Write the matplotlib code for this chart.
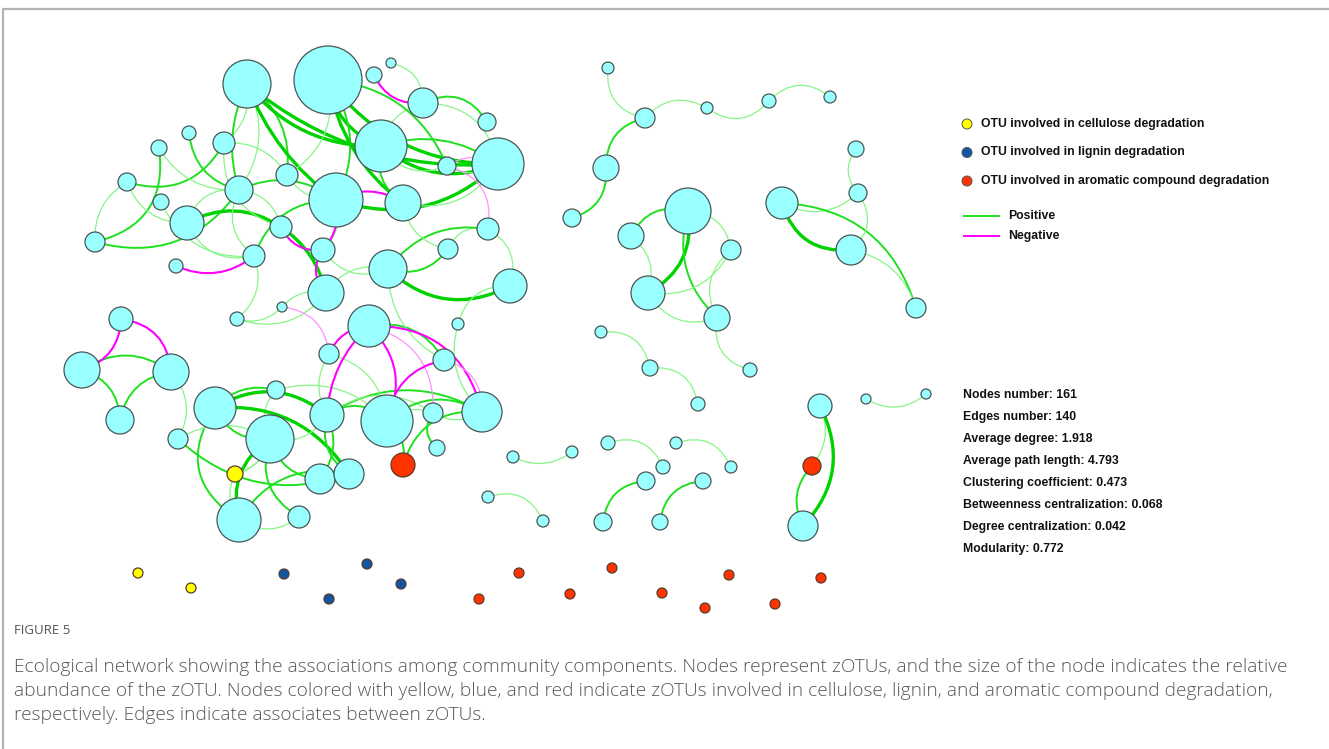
"""
Co-occurrence network of zOTUs with functional annotation, drawn in pixel space.
"""
import matplotlib.pyplot as plt
from matplotlib.patches import Circle, PathPatch
from matplotlib.path import Path

W, H = 1329, 749

# node layout: x, y (pixels, y down), radius, functional group
node_x = [247, 328, 374, 391, 423, 487, 381, 498, 447, 159, 189, 224, 127, 161, 239, 287,
          336, 403, 187, 281, 95, 176, 254, 323, 388, 448, 488, 510, 326, 282, 237, 458,
          369, 329, 444, 121, 82, 171, 120, 276, 215, 270, 327, 387, 433, 482, 178, 437,
          235, 403, 320, 349, 239, 299,
          608, 645, 707, 769, 830, 606, 572, 688, 631, 731, 648, 717, 782, 856, 858, 851,
          916, 601, 650, 750, 698, 820, 866, 926, 513, 572, 608, 663, 676, 731, 646, 703,
          488, 543, 603, 660, 812, 803,
          138, 191, 284, 367, 401, 329, 519, 479, 570, 612, 662, 705, 729, 775, 821]
node_y = [84, 80, 75, 63, 103, 122, 146, 164, 166, 148, 133, 143, 182, 202, 190, 175,
          200, 203, 223, 227, 242, 266, 256, 250, 269, 249, 229, 286, 293, 307, 319, 324,
          326, 354, 360, 319, 370, 372, 420, 390, 408, 439, 415, 421, 413, 412, 439, 448,
          474, 465, 479, 474, 520, 517,
          68, 118, 108, 101, 97, 168, 218, 211, 236, 250, 293, 318, 203, 149, 193, 250,
          308, 332, 368, 370, 404, 406, 399, 394, 457, 452, 443, 467, 443, 467, 481, 481,
          497, 521, 522, 522, 466, 526,
          573, 588, 574, 564, 584, 599, 573, 599, 594, 568, 593, 608, 575, 604, 578]
node_r = [24, 34, 8, 5, 15, 9, 26, 26, 9, 8, 7, 11, 9, 8, 14, 11,
          27, 18, 17, 11, 10, 7, 11, 12, 19, 10, 11, 17, 18, 5, 7, 6,
          21, 10, 11, 12, 18, 18, 14, 9, 21, 24, 17, 26, 10, 20, 10, 8,
          8, 12, 15, 15, 22, 11,
          6, 10, 6, 7, 6, 13, 9, 23, 13, 10, 17, 13, 16, 8, 9, 15,
          10, 6, 8, 7, 7, 12, 5, 5, 6, 6, 7, 7, 6, 6, 9, 8,
          6, 6, 9, 8, 9, 15,
          5, 5, 5, 5, 5, 5, 5, 5, 5, 5, 5, 5, 5, 5, 5]
node_group = (["otu"] * 48 + ["cellulose", "aromatic"] + ["otu"] * 40
              + ["aromatic", "otu"]
              + ["cellulose"] * 2 + ["lignin"] * 4 + ["aromatic"] * 9)

# edges: (source, target, strength class, bend)
positive_edges = [
    (20, 9, 2, 0.45), (20, 12, 1, -0.3), (20, 14, 2, 0.35), (12, 11, 2, 0.4),
    (9, 14, 1, 0.3), (10, 14, 2, 0.35), (12, 18, 1, 0.35), (11, 15, 1, -0.3),
    (18, 19, 3, -0.3), (19, 28, 3, -0.2), (18, 14, 1, -0.4), (18, 22, 1, 0.4),
    (14, 0, 1, 0.3), (0, 15, 2, -0.3), (0, 16, 3, 0.15), (0, 6, 3, 0.25),
    (0, 7, 3, 0.2), (1, 6, 3, 0.3), (1, 7, 3, 0.25), (1, 16, 2, -0.3),
    (1, 17, 3, 0.2), (1, 15, 1, -0.35), (0, 11, 1, -0.3), (0, 14, 2, 0.2),
    (14, 16, 2, -0.3), (15, 16, 1, 0.3), (11, 19, 1, 0.4), (13, 22, 1, 0.35),
    (3, 4, 1, -0.4), (4, 5, 2, -0.45), (4, 7, 1, -0.4), (4, 6, 1, 0.3),
    (6, 7, 3, 0.3), (6, 7, 2, -0.25), (6, 17, 2, 0.35), (8, 7, 1, 0.3),
    (16, 7, 3, 0.3), (17, 7, 1, 0.35), (1, 8, 2, -0.3), (6, 8, 1, 0.4),
    (24, 25, 2, 0.35), (24, 27, 3, 0.35), (25, 26, 1, -0.4), (26, 27, 1, -0.4),
    (26, 24, 2, 0.3), (27, 31, 1, 0.4), (17, 25, 1, 0.35), (24, 23, 1, -0.4),
    (30, 29, 1, 0.3), (30, 28, 1, 0.35), (30, 22, 1, 0.35), (22, 14, 1, -0.4),
    (19, 14, 1, 0.35), (23, 16, 1, 0.3), (22, 16, 2, -0.35), (28, 24, 1, -0.35),
    (32, 34, 2, -0.35), (42, 45, 2, -0.3), (42, 43, 2, -0.4), (42, 44, 1, -0.35),
    (43, 45, 2, -0.35), (44, 45, 1, 0.3), (44, 47, 2, 0.45), (45, 49, 2, 0.4),
    (43, 49, 2, -0.3), (33, 42, 1, 0.3), (39, 41, 1, 0.35), (37, 46, 1, -0.35),
    (36, 37, 2, -0.35), (36, 38, 2, -0.35), (37, 38, 2, 0.35), (40, 39, 2, -0.3),
    (40, 41, 2, 0.35), (40, 52, 2, 0.5), (40, 51, 3, -0.3), (46, 51, 2, 0.3),
    (41, 48, 1, -0.3), (41, 50, 2, 0.35), (41, 52, 3, 0.35), (41, 53, 2, 0.4),
    (52, 51, 2, -0.35), (52, 53, 1, 0.35), (48, 52, 1, 0.3), (46, 41, 1, -0.3),
    (40, 42, 3, -0.35), (41, 42, 1, 0.35), (42, 50, 2, -0.3), (39, 43, 1, -0.3),
    (33, 43, 1, -0.35), (42, 51, 2, 0.35), (48, 41, 1, 0.3), (50, 51, 1, 0.4),
    (43, 44, 1, -0.3), (31, 45, 1, 0.3), (24, 34, 1, 0.3), (28, 29, 1, 0.3),
    (54, 55, 1, 0.45), (55, 56, 1, -0.4), (56, 57, 1, 0.45), (57, 58, 1, -0.45),
    (55, 59, 2, 0.4), (59, 60, 2, -0.4), (61, 62, 2, 0.4), (61, 64, 3, -0.35),
    (61, 65, 2, 0.3), (61, 63, 1, -0.4), (62, 64, 1, -0.35), (63, 64, 1, -0.35),
    (63, 65, 1, 0.4), (64, 65, 1, 0.4), (65, 73, 1, 0.45), (66, 69, 3, 0.4),
    (66, 68, 1, 0.35), (66, 70, 2, -0.35), (67, 68, 1, 0.4), (68, 69, 1, -0.45),
    (69, 70, 1, -0.3), (71, 72, 1, -0.45), (72, 74, 1, -0.45), (75, 90, 1, -0.3),
    (75, 91, 3, -0.35), (90, 91, 2, 0.35), (76, 77, 1, 0.35), (78, 79, 1, 0.3),
    (80, 81, 1, -0.45), (82, 83, 1, -0.45), (84, 88, 2, 0.4), (85, 89, 2, 0.4),
    (86, 87, 1, -0.45),
]
negative_edges = [
    (21, 22, 2, 0.3), (19, 23, 2, 0.35), (8, 26, 1, -0.45), (2, 4, 2, 0.35),
    (16, 17, 2, -0.3), (16, 23, 2, -0.25), (23, 28, 2, 0.4), (29, 33, 1, -0.4),
    (32, 33, 2, 0.3), (32, 42, 2, 0.2), (32, 43, 2, -0.35), (32, 45, 2, -0.4),
    (32, 44, 1, -0.4), (34, 45, 1, -0.4), (43, 34, 2, -0.35), (35, 36, 2, -0.35),
    (35, 37, 2, -0.4), (8, 7, 1, -0.3),
]

edge_styles = {
    ("pos", 1): ("#86F586", 0.9),
    ("pos", 2): ("#1FE01F", 1.4),
    ("pos", 3): ("#00D200", 2.4),
    ("neg", 1): ("#FF90FF", 0.9),
    ("neg", 2): ("#FF00FF", 1.5),
}
group_colors = {
    "otu": "#99FFFF",
    "cellulose": "#FFFF00",
    "lignin": "#0F56A3",
    "aromatic": "#FF3300",
}

legend_groups = ["cellulose", "lignin", "aromatic"]
legend_labels = [
    "OTU involved in cellulose degradation",
    "OTU involved in lignin degradation",
    "OTU involved in aromatic compound degradation",
]
stats_labels = [
    "Nodes number: 161",
    "Edges number: 140",
    "Average degree: 1.918",
    "Average path length: 4.793",
    "Clustering coefficient: 0.473",
    "Betweenness centralization: 0.068",
    "Degree centralization: 0.042",
    "Modularity: 0.772",
]
caption_lines = [
    "Ecological network showing the associations among community components. Nodes represent zOTUs, and the size of the node indicates the relative",
    "abundance of the zOTU. Nodes colored with yellow, blue, and red indicate zOTUs involved in cellulose, lignin, and aromatic compound degradation,",
    "respectively. Edges indicate associates between zOTUs.",
]


def draw_edge(ax, a, b, color, lw, bend):
    x0, y0 = node_x[a], node_y[a]
    x1, y1 = node_x[b], node_y[b]
    mx, my = (x0 + x1) / 2, (y0 + y1) / 2
    dx, dy = x1 - x0, y1 - y0
    ctrl = (mx - dy * bend, my + dx * bend)
    path = Path([(x0, y0), ctrl, (x1, y1)], [Path.MOVETO, Path.CURVE3, Path.CURVE3])
    ax.add_patch(PathPatch(path, fill=False, edgecolor=color, lw=lw, zorder=1,
                           capstyle="round"))


fig = plt.figure(figsize=(W / 100, H / 100), dpi=100)
ax = fig.add_axes([0, 0, 1, 1])
ax.set_xlim(0, W)
ax.set_ylim(H, 0)
ax.axis("off")

# panel frame (top and left sides only)
ax.plot([3, 3, W], [H, 8.5, 8.5], color="#b4b4b4", lw=1.6, solid_capstyle="butt")

for a, b, k, bend in positive_edges:
    color, lw = edge_styles[("pos", k)]
    draw_edge(ax, a, b, color, lw, bend)
for a, b, k, bend in negative_edges:
    color, lw = edge_styles[("neg", k)]
    draw_edge(ax, a, b, color, lw, bend)

for x, y, r, g in zip(node_x, node_y, node_r, node_group):
    edge = "#4a5555" if g == "otu" else "#5a3a2a"
    ax.add_patch(Circle((x, y), r, facecolor=group_colors[g], edgecolor=edge,
                        lw=0.9, zorder=3))

# legend
for i, (g, lab) in enumerate(zip(legend_groups, legend_labels)):
    y = 124 + i * 28.5
    ax.add_patch(Circle((967, y), 5, facecolor=group_colors[g], edgecolor="#555555",
                        lw=0.7, zorder=3))
    ax.text(981, y, lab, fontsize=8.8, fontweight="bold", family="Liberation Sans",
            va="center", ha="left", color="#111111")
for y, (color, _), lab in [(216, edge_styles[("pos", 2)], "Positive"),
                           (236, edge_styles[("neg", 2)], "Negative")]:
    ax.plot([964, 999], [y, y], color=color, lw=1.4)
    ax.text(1008, y, lab, fontsize=8.8, fontweight="bold", family="Liberation Sans",
            va="center", ha="left", color="#111111")

for i, lab in enumerate(stats_labels):
    ax.text(963, 395 + i * 22, lab, fontsize=8.8, fontweight="bold",
            family="Liberation Sans", va="center", ha="left", color="#111111")

# caption
ax.text(14, 631, "FIGURE 5", fontsize=9.5, family="Open Sans", va="center",
        ha="left", color="#555555")
for i, line in enumerate(caption_lines):
    ax.text(14, 667 + i * 24, line, fontsize=13.8, family="Open Sans",
            fontweight="light", va="center", ha="left", color="#585858")

fig.savefig("out.png", dpi=100)
